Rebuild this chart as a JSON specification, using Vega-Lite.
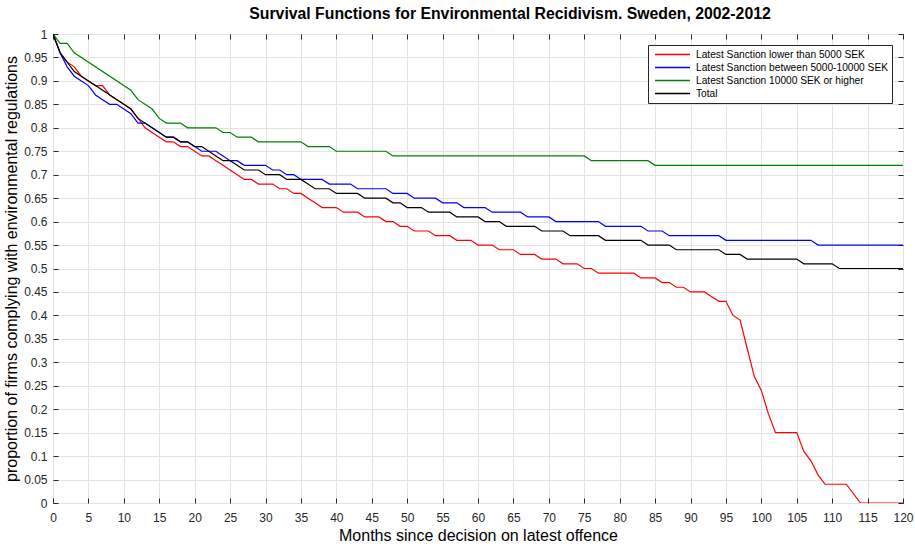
{
 "$schema": "https://vega.github.io/schema/vega-lite/v6.json",
 "width": 850, "height": 469,
 "autosize": {"type": "none"},
 "padding": {"left": 53, "top": 34, "right": 12, "bottom": 44},
 "background": "white",
 "title": {"text": "Survival Functions for Environmental Recidivism. Sweden, 2002-2012", "fontSize": 15.8, "fontWeight": "bold", "font": "Liberation Sans", "anchor": "middle", "offset": 5, "dx": 32, "color": "#000000"},
 "data": {"values": [
  {"s":"A","m":0,"v":1},{"s":"A","m":1,"v":0.96},{"s":"A","m":2,"v":0.94},{"s":"A","m":3,"v":0.93},{"s":"A","m":4,"v":0.91},{"s":"A","m":5,"v":0.90},{"s":"A","m":6,"v":0.89},{"s":"A","m":7,"v":0.89},{"s":"A","m":8,"v":0.87},{"s":"A","m":9,"v":0.86},{"s":"A","m":10,"v":0.85},{"s":"A","m":11,"v":0.84},{"s":"A","m":12,"v":0.82},{"s":"A","m":13,"v":0.80},{"s":"A","m":14,"v":0.79},{"s":"A","m":15,"v":0.78},{"s":"A","m":16,"v":0.77},{"s":"A","m":17,"v":0.77},{"s":"A","m":18,"v":0.76},{"s":"A","m":19,"v":0.76},{"s":"A","m":20,"v":0.75},{"s":"A","m":21,"v":0.74},{"s":"A","m":22,"v":0.74},{"s":"A","m":23,"v":0.73},{"s":"A","m":24,"v":0.72},{"s":"A","m":25,"v":0.71},{"s":"A","m":26,"v":0.70},{"s":"A","m":27,"v":0.69},{"s":"A","m":28,"v":0.69},{"s":"A","m":29,"v":0.68},{"s":"A","m":31,"v":0.68},{"s":"A","m":32,"v":0.67},{"s":"A","m":33,"v":0.67},{"s":"A","m":34,"v":0.66},{"s":"A","m":35,"v":0.66},{"s":"A","m":36,"v":0.65},{"s":"A","m":37,"v":0.64},{"s":"A","m":38,"v":0.63},{"s":"A","m":40,"v":0.63},{"s":"A","m":41,"v":0.62},{"s":"A","m":43,"v":0.62},{"s":"A","m":44,"v":0.61},{"s":"A","m":46,"v":0.61},{"s":"A","m":47,"v":0.60},{"s":"A","m":48,"v":0.60},{"s":"A","m":49,"v":0.59},{"s":"A","m":50,"v":0.59},{"s":"A","m":51,"v":0.58},{"s":"A","m":53,"v":0.58},{"s":"A","m":54,"v":0.57},{"s":"A","m":56,"v":0.57},{"s":"A","m":57,"v":0.56},{"s":"A","m":59,"v":0.56},{"s":"A","m":60,"v":0.55},{"s":"A","m":62,"v":0.55},{"s":"A","m":63,"v":0.54},{"s":"A","m":65,"v":0.54},{"s":"A","m":66,"v":0.53},{"s":"A","m":68,"v":0.53},{"s":"A","m":69,"v":0.52},{"s":"A","m":71,"v":0.52},{"s":"A","m":72,"v":0.51},{"s":"A","m":74,"v":0.51},{"s":"A","m":75,"v":0.50},{"s":"A","m":76,"v":0.50},{"s":"A","m":77,"v":0.49},{"s":"A","m":82,"v":0.49},{"s":"A","m":83,"v":0.48},{"s":"A","m":85,"v":0.48},{"s":"A","m":86,"v":0.47},{"s":"A","m":87,"v":0.47},{"s":"A","m":88,"v":0.46},{"s":"A","m":89,"v":0.46},{"s":"A","m":90,"v":0.45},{"s":"A","m":92,"v":0.45},{"s":"A","m":93,"v":0.44},{"s":"A","m":94,"v":0.43},{"s":"A","m":95,"v":0.43},{"s":"A","m":96,"v":0.40},{"s":"A","m":97,"v":0.39},{"s":"A","m":98,"v":0.33},{"s":"A","m":99,"v":0.27},{"s":"A","m":100,"v":0.24},{"s":"A","m":101,"v":0.19},{"s":"A","m":102,"v":0.15},{"s":"A","m":105,"v":0.15},{"s":"A","m":106,"v":0.11},{"s":"A","m":107,"v":0.09},{"s":"A","m":108,"v":0.06},{"s":"A","m":109,"v":0.04},{"s":"A","m":112,"v":0.04},{"s":"A","m":114,"v":0},{"s":"A","m":120,"v":0},
  {"s":"B","m":0,"v":1},{"s":"B","m":1,"v":0.96},{"s":"B","m":2,"v":0.93},{"s":"B","m":3,"v":0.91},{"s":"B","m":4,"v":0.90},{"s":"B","m":5,"v":0.89},{"s":"B","m":6,"v":0.87},{"s":"B","m":7,"v":0.86},{"s":"B","m":8,"v":0.85},{"s":"B","m":9,"v":0.85},{"s":"B","m":10,"v":0.84},{"s":"B","m":11,"v":0.83},{"s":"B","m":12,"v":0.81},{"s":"B","m":13,"v":0.81},{"s":"B","m":14,"v":0.80},{"s":"B","m":15,"v":0.79},{"s":"B","m":16,"v":0.78},{"s":"B","m":17,"v":0.78},{"s":"B","m":18,"v":0.77},{"s":"B","m":19,"v":0.77},{"s":"B","m":20,"v":0.76},{"s":"B","m":21,"v":0.75},{"s":"B","m":23,"v":0.75},{"s":"B","m":24,"v":0.74},{"s":"B","m":25,"v":0.73},{"s":"B","m":26,"v":0.73},{"s":"B","m":27,"v":0.72},{"s":"B","m":30,"v":0.72},{"s":"B","m":31,"v":0.71},{"s":"B","m":32,"v":0.71},{"s":"B","m":33,"v":0.70},{"s":"B","m":34,"v":0.70},{"s":"B","m":35,"v":0.69},{"s":"B","m":38,"v":0.69},{"s":"B","m":39,"v":0.68},{"s":"B","m":42,"v":0.68},{"s":"B","m":43,"v":0.67},{"s":"B","m":47,"v":0.67},{"s":"B","m":48,"v":0.66},{"s":"B","m":50,"v":0.66},{"s":"B","m":51,"v":0.65},{"s":"B","m":54,"v":0.65},{"s":"B","m":55,"v":0.64},{"s":"B","m":57,"v":0.64},{"s":"B","m":58,"v":0.63},{"s":"B","m":61,"v":0.63},{"s":"B","m":62,"v":0.62},{"s":"B","m":66,"v":0.62},{"s":"B","m":67,"v":0.61},{"s":"B","m":70,"v":0.61},{"s":"B","m":71,"v":0.60},{"s":"B","m":77,"v":0.60},{"s":"B","m":78,"v":0.59},{"s":"B","m":83,"v":0.59},{"s":"B","m":84,"v":0.58},{"s":"B","m":86,"v":0.58},{"s":"B","m":87,"v":0.57},{"s":"B","m":94,"v":0.57},{"s":"B","m":95,"v":0.56},{"s":"B","m":107,"v":0.56},{"s":"B","m":108,"v":0.55},{"s":"B","m":120,"v":0.55},
  {"s":"C","m":0,"v":1},{"s":"C","m":1,"v":0.98},{"s":"C","m":2,"v":0.98},{"s":"C","m":3,"v":0.96},{"s":"C","m":11,"v":0.88},{"s":"C","m":12,"v":0.86},{"s":"C","m":14,"v":0.84},{"s":"C","m":15,"v":0.82},{"s":"C","m":16,"v":0.81},{"s":"C","m":18,"v":0.81},{"s":"C","m":19,"v":0.80},{"s":"C","m":23,"v":0.80},{"s":"C","m":24,"v":0.79},{"s":"C","m":25,"v":0.79},{"s":"C","m":26,"v":0.78},{"s":"C","m":28,"v":0.78},{"s":"C","m":29,"v":0.77},{"s":"C","m":35,"v":0.77},{"s":"C","m":36,"v":0.76},{"s":"C","m":39,"v":0.76},{"s":"C","m":40,"v":0.75},{"s":"C","m":47,"v":0.75},{"s":"C","m":48,"v":0.74},{"s":"C","m":75,"v":0.74},{"s":"C","m":76,"v":0.73},{"s":"C","m":84,"v":0.73},{"s":"C","m":85,"v":0.72},{"s":"C","m":120,"v":0.72},
  {"s":"D","m":0,"v":1},{"s":"D","m":1,"v":0.96},{"s":"D","m":2,"v":0.94},{"s":"D","m":3,"v":0.92},{"s":"D","m":4,"v":0.91},{"s":"D","m":5,"v":0.90},{"s":"D","m":6,"v":0.89},{"s":"D","m":11,"v":0.84},{"s":"D","m":12,"v":0.82},{"s":"D","m":16,"v":0.78},{"s":"D","m":17,"v":0.78},{"s":"D","m":18,"v":0.77},{"s":"D","m":19,"v":0.77},{"s":"D","m":20,"v":0.76},{"s":"D","m":21,"v":0.76},{"s":"D","m":22,"v":0.75},{"s":"D","m":23,"v":0.74},{"s":"D","m":24,"v":0.73},{"s":"D","m":25,"v":0.73},{"s":"D","m":26,"v":0.72},{"s":"D","m":27,"v":0.71},{"s":"D","m":29,"v":0.71},{"s":"D","m":30,"v":0.70},{"s":"D","m":32,"v":0.70},{"s":"D","m":33,"v":0.69},{"s":"D","m":35,"v":0.69},{"s":"D","m":36,"v":0.68},{"s":"D","m":37,"v":0.67},{"s":"D","m":39,"v":0.67},{"s":"D","m":40,"v":0.66},{"s":"D","m":43,"v":0.66},{"s":"D","m":44,"v":0.65},{"s":"D","m":47,"v":0.65},{"s":"D","m":48,"v":0.64},{"s":"D","m":49,"v":0.64},{"s":"D","m":50,"v":0.63},{"s":"D","m":52,"v":0.63},{"s":"D","m":53,"v":0.62},{"s":"D","m":56,"v":0.62},{"s":"D","m":57,"v":0.61},{"s":"D","m":60,"v":0.61},{"s":"D","m":61,"v":0.60},{"s":"D","m":63,"v":0.60},{"s":"D","m":64,"v":0.59},{"s":"D","m":68,"v":0.59},{"s":"D","m":69,"v":0.58},{"s":"D","m":72,"v":0.58},{"s":"D","m":73,"v":0.57},{"s":"D","m":77,"v":0.57},{"s":"D","m":78,"v":0.56},{"s":"D","m":83,"v":0.56},{"s":"D","m":84,"v":0.55},{"s":"D","m":87,"v":0.55},{"s":"D","m":88,"v":0.54},{"s":"D","m":94,"v":0.54},{"s":"D","m":95,"v":0.53},{"s":"D","m":97,"v":0.53},{"s":"D","m":98,"v":0.52},{"s":"D","m":105,"v":0.52},{"s":"D","m":106,"v":0.51},{"s":"D","m":110,"v":0.51},{"s":"D","m":111,"v":0.50},{"s":"D","m":120,"v":0.50}
 ]},
 "layer": [
  {
   "mark": {"type": "line", "strokeWidth": 1.2, "clip": true},
   "encoding": {
    "x": {"field": "m", "type": "quantitative",
     "scale": {"domain": [0, 120], "nice": false, "zero": false},
     "axis": {"orient": "bottom", "values": [0,5,10,15,20,25,30,35,40,45,50,55,60,65,70,75,80,85,90,95,100,105,110,115,120],
      "title": "Months since decision on latest offence", "titleFont": "Liberation Sans", "titleFontSize": 16, "titleFontWeight": "normal", "titleColor": "#000000", "titlePadding": 4,
      "labelFont": "Liberation Sans", "labelFontSize": 12, "labelColor": "#262626", "labelOverlap": false, "labelFlush": false, "labelPadding": 14,
      "tickSize": -5, "tickColor": "#262626", "domain": false, "grid": true, "gridColor": "#e3e3e3"}},
    "y": {"field": "v", "type": "quantitative",
     "scale": {"domain": [0, 1], "nice": false, "zero": false},
     "axis": {"orient": "left", "values": [0,0.05,0.1,0.15,0.2,0.25,0.3,0.35,0.4,0.45,0.5,0.55,0.6,0.65,0.7,0.75,0.8,0.85,0.9,0.95,1], "format": "~g",
      "title": "proportion of firms complying with environmental regulations", "titleFont": "Liberation Sans", "titleFontSize": 16, "titleFontWeight": "normal", "titleColor": "#000000", "titlePadding": 4,
      "labelFont": "Liberation Sans", "labelFontSize": 12, "labelColor": "#262626", "labelOverlap": false, "labelFlush": false, "labelPadding": 11,
      "tickSize": -5, "tickColor": "#262626", "domain": false, "grid": true, "gridColor": "#e3e3e3"}},
    "color": {"field": "s", "type": "nominal",
     "scale": {"domain": ["A","B","C","D"], "range": ["#ff0000","#0000ff","#008000","#000000"]},
     "legend": {"orient": "top-right", "offset": 11, "title": null,
      "labelExpr": "datum.value == 'A' ? 'Latest Sanction lower than 5000 SEK' : datum.value == 'B' ? 'Latest Sanction between 5000-10000 SEK' : datum.value == 'C' ? 'Latest Sanction 10000 SEK or higher' : 'Total'",
      "labelFont": "Liberation Sans", "labelFontSize": 10.2, "labelColor": "#000000", "labelLimit": 300, "labelOffset": 5,
      "symbolType": "stroke", "symbolSize": 1225, "symbolStrokeWidth": 1.5, "symbolOffset": 3,
      "clipHeight": 13, "rowPadding": 0,
      "strokeColor": "#262626", "fillColor": "#ffffff", "padding": 3}}
   }
  },
  {
   "mark": {"type": "line", "strokeOpacity": 0},
   "encoding": {
    "x": {"field": "m", "type": "quantitative",
     "axis": {"orient": "top", "values": [0,5,10,15,20,25,30,35,40,45,50,55,60,65,70,75,80,85,90,95,100,105,110,115,120], "labels": false, "title": null, "tickSize": -5, "tickColor": "#262626", "domain": false, "grid": false}},
    "y": {"field": "v", "type": "quantitative",
     "axis": {"orient": "right", "values": [0,0.05,0.1,0.15,0.2,0.25,0.3,0.35,0.4,0.45,0.5,0.55,0.6,0.65,0.7,0.75,0.8,0.85,0.9,0.95,1], "labels": false, "title": null, "tickSize": -5, "tickColor": "#262626", "domain": false, "grid": false}}
   }
  }
 ],
 "config": {"view": {"stroke": "#262626", "strokeWidth": 1}}
}
